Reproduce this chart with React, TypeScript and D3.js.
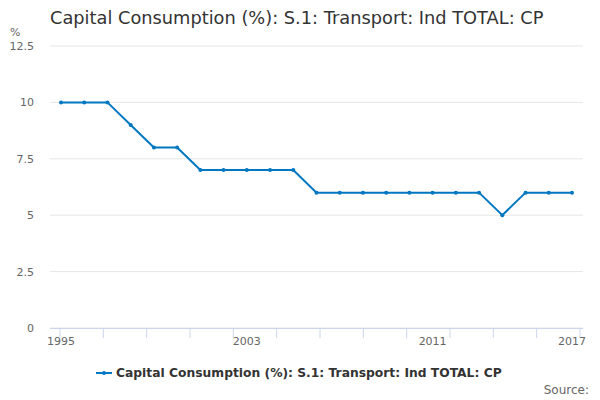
import React from 'react';
import * as d3 from 'd3';

const years = d3.range(1995, 2018);
const values = [10, 10, 10, 9, 8, 8, 7, 7, 7, 7, 7, 6, 6, 6, 6, 6, 6, 6, 6, 5, 6, 6, 6];
const yTicks = [0, 2.5, 5, 7.5, 10, 12.5];
const xLabels = [1995, 2003, 2011, 2017];
const title = 'Capital Consumption (%): S.1: Transport: Ind TOTAL: CP';
const color = '#0077c0';

export default function App() {
  const width = 600, height = 400;
  const x = d3.scaleLinear().domain([1995, 2017]).range([61, 572]);
  const y = d3.scaleLinear().domain([0, 12.5]).range([328, 46]);
  const line = d3.line<number>().x((_, i) => x(years[i])).y(d => y(d));
  const tickPos = d3.range(13).map(i => 60 + i * (520 / 12));
  const font = '"DejaVu Sans", sans-serif';

  return (
    <svg width={width} height={height} style={{ position: 'absolute', left: 0, top: 0, fontFamily: font }}>
      <rect width={width} height={height} fill="#fff" />
      <text x={50} y={24} fontSize={17.8} fill="#333">{title}</text>
      <text x={10} y={36} fontSize={11} fill="#666">%</text>
      {yTicks.map(t => (
        <g key={t}>
          <line x1={50} x2={583} y1={y(t)} y2={y(t)} stroke="#e6e6e6" />
          <text x={34} y={y(t) + 4} fontSize={11} fill="#666" textAnchor="end">{t}</text>
        </g>
      ))}
      <line x1={50} x2={583} y1={328.5} y2={328.5} stroke="#ccd6eb" />
      {tickPos.map((p, i) => (
        <line key={i} x1={p} x2={p} y1={328} y2={338} stroke="#ccd6eb" />
      ))}
      {xLabels.map(l => (
        <text key={l} x={x(l)} y={345} fontSize={11} fill="#666" textAnchor="middle">{l}</text>
      ))}
      <path d={line(values) ?? ''} fill="none" stroke={color} strokeWidth={2} />
      {values.map((v, i) => (
        <circle key={i} cx={x(years[i])} cy={y(v)} r={2} fill={color} />
      ))}
      <line x1={96} x2={112} y1={373} y2={373} stroke={color} strokeWidth={2} />
      <circle cx={104} cy={373} r={2} fill={color} />
      <text x={116} y={377} fontSize={12.3} fontWeight="bold" fill="#333">{title}</text>
      <text x={589} y={394} fontSize={12} fill="#666" textAnchor="end">Source:</text>
    </svg>
  );
}
